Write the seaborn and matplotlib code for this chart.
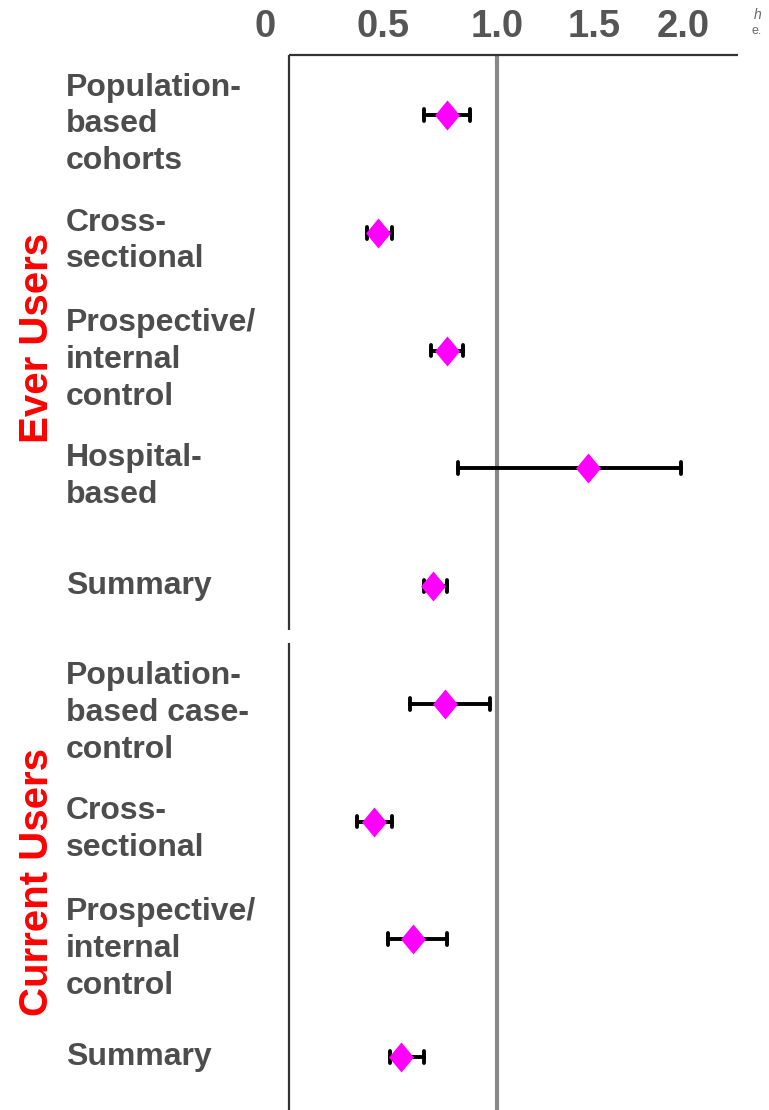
import numpy as np
import pandas as pd
import matplotlib
matplotlib.use('Agg')
import matplotlib.pyplot as plt
import matplotlib.transforms as mtransforms
from matplotlib.path import Path
import seaborn as sns

sns.set_theme(style='white')
plt.rcParams['font.family'] = ['Liberation Sans', 'DejaVu Sans']

# Dados (odds ratio e IC 95%)
ever_labels = ['Population-\nbased\ncohorts', 'Cross-\nsectional',
               'Prospective/\ninternal\ncontrol', 'Hospital-\nbased', 'Summary']
ever_est = [0.78, 0.48, 0.78, 1.47, 0.72]
ever_lo = [0.68, 0.43, 0.71, 0.83, 0.68]
ever_hi = [0.88, 0.54, 0.85, 1.99, 0.78]

cur_labels = ['Population-\nbased case-\ncontrol', 'Cross-\nsectional',
              'Prospective/\ninternal\ncontrol', 'Summary']
cur_est = [0.77, 0.46, 0.63, 0.58]
cur_lo = [0.62, 0.39, 0.52, 0.53]
cur_hi = [0.97, 0.54, 0.78, 0.68]

groups = ['Ever Users', 'Current Users']
tick_vals = [0, 0.5, 1.0, 1.5, 2.0]
tick_labels = ['0', '0.5', '1.0', '1.5', '2.0']

# monta tabela: cada linha recebe lo / est / hi -> mediana = est, pi100 = IC
labels = ever_labels + cur_labels
est = ever_est + cur_est
lo = ever_lo + cur_lo
hi = ever_hi + cur_hi
rows = []
for i in range(len(labels)):
    for v in (lo[i], est[i], hi[i]):
        rows.append({'row': f'r{i}', 'value': v})
df = pd.DataFrame(rows)
order = [f'r{i}' for i in range(len(labels))]

# escala do eixo x (espacamento irregular do slide original)
scale_vals = np.array([-1.0, 0.0, 0.5, 1.0, 1.5, 2.0, 3.0])
scale_pos = np.array([29.0, 265.0, 383.0, 497.0, 594.0, 683.0, 861.0])


def fwd(x):
    return np.interp(np.asarray(x, dtype=float), scale_vals, scale_pos)


def inv(p):
    return np.interp(np.asarray(p, dtype=float), scale_pos, scale_vals)


diamond = Path([(0, 1), (0.83, 0), (0, -1), (-0.83, 0), (0, 1)],
               [Path.MOVETO, Path.LINETO, Path.LINETO, Path.LINETO, Path.CLOSEPOLY])

fig = plt.figure(figsize=(7.69, 11.10), dpi=100)
ax = fig.add_axes([250 / 769, 0, 490 / 769, 1 - 55 / 1110])

sns.pointplot(data=df, x='value', y='row', order=order, orient='h',
              estimator='median', errorbar=('pi', 100), capsize=0.1,
              color='#ff00ff', linestyle='none', marker=diamond,
              markersize=21.6, markeredgewidth=0,
              err_kws={'color': 'black', 'linewidth': 2.8, 'zorder': 2},
              ax=ax)

# diamantes por cima das barras de erro
for ln in ax.lines:
    if ln.get_color() == '#ff00ff' or ln.get_markerfacecolor() == '#ff00ff':
        ln.set_zorder(5)

ax.set_xscale('function', functions=(fwd, inv))
ax.set_xlim(-0.064, 2.32)
y_top, y_bot = -0.51, 8.45
ax.set_ylim(y_bot, y_top)

# linhas de referencia
ax.axvline(1.0, color='#888888', lw=3, zorder=1)
ax.vlines(0.1, y_top, 4.37, color='#333333', lw=1.6)
ax.vlines(0.1, 4.48, y_bot, color='#333333', lw=1.6)
ax.hlines(y_top, 0.1, 2.31, color='#333333', lw=1.6, clip_on=False)

ax.set_xticks(tick_vals)
ax.set_xticklabels(tick_labels)
ax.xaxis.tick_top()
ax.tick_params(axis='x', length=0, pad=7, labelsize=27.5, labelcolor='#555555')
for t in ax.get_xticklabels():
    t.set_fontweight('bold')
ax.set_yticks([])
ax.set_xlabel('')
ax.set_ylabel('')
for s in ax.spines.values():
    s.set_visible(False)

# rotulos das linhas (blocos de varias linhas levemente abaixo do centro)
trans = mtransforms.blended_transform_factory(fig.transFigure, ax.transData)
for i, lab in enumerate(labels):
    nl = lab.count('\n')
    off = 0.0 if nl == 0 else (0.07 if nl == 1 else 0.08)
    ax.text(66 / 769, i + off, lab, transform=trans, ha='left', va='center',
            fontsize=23, fontweight='bold', color='#4d4d4d', linespacing=1.3)

# rotulos dos grupos
fig.text(37 / 769, 1 - 338 / 1110, groups[0], rotation=90, ha='center', va='center',
         color='#ff0000', fontsize=29, fontweight='bold')
fig.text(37 / 769, 1 - 882 / 1110, groups[1], rotation=90, ha='center', va='center',
         color='#ff0000', fontsize=29, fontweight='bold')

# fragmento de texto cortado no canto
fig.text(754 / 769, 1 - 15 / 1110, 'h', fontsize=10, style='italic', color='#666666',
         ha='left', va='center')
fig.text(752 / 769, 1 - 31 / 1110, 'e.', fontsize=9, color='#666666',
         ha='left', va='center')

fig.savefig('out.png', dpi=100)
